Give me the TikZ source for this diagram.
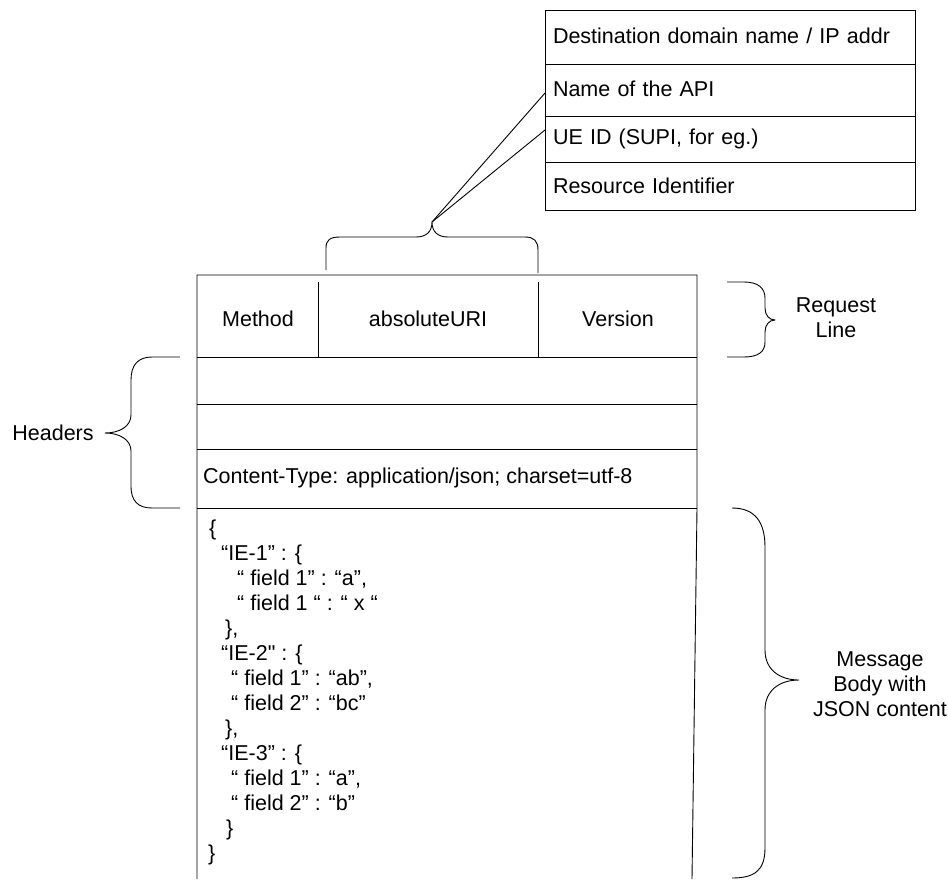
\documentclass[tikz,border=0pt]{standalone}
\usepackage{fontspec}
\setmainfont{Liberation Sans}[Ligatures=TeXOff]
\begin{document}
\begin{tikzpicture}[x=1pt,y=-1pt,
  line/.style={draw=black,line width=0.9pt},
  curl/.style={draw=black,line width=0.9pt,line join=round},
  lbl/.style={inner sep=0pt,font=\fontsize{21.5}{25}\selectfont},
  lblc/.style={lbl,align=center},
  lbll/.style={lbl,anchor=base west},
  rowbox/.style={draw=black,line width=0.9pt,minimum width=370pt,text width=354pt,
    inner xsep=8pt,inner ysep=0pt,align=left,font=\fontsize{21.5}{25}\selectfont}]
\useasboundingbox (0,0) rectangle (948,879);

% ---- top box: URI parts
\node[rowbox,minimum height=54pt] (dst) at (730,37) {\raisebox{3pt}{Destination domain name / IP addr}};
\node[rowbox,minimum height=52pt] (api) at (730,90) {\raisebox{3pt}{Name of the API}};
\node[rowbox,minimum height=46pt] (ueid) at (730,139) {\raisebox{3pt}{UE ID (SUPI, for eg.)}};
\node[rowbox,minimum height=48pt] (res) at (730,186) {\raisebox{1pt}{Resource Identifier}};

% ---- brace over absoluteURI and its connectors
\coordinate (tip) at (432,222);
\coordinate (apiend) at (545,93);
\coordinate (ueend) at (545,130);
\draw[curl] (326,270) -- (326,248) .. controls (326,240) and (330,237) .. (340,237)
  -- (416,237) .. controls (426,237) and (432,232) .. (tip)
  .. controls (432,232) and (438,237) .. (448,237)
  -- (525,237) .. controls (534,237) and (538,241) .. (538,250) -- (538,273);
\draw[line] (tip) -- (apiend);
\draw[line] (tip) -- (ueend);

% ---- main message box
\draw[line] (197,879) -- (197,275) -- (697,275) -- (697,508) -- (692,879);
\draw[line] (197,357) -- (697,357);
\draw[line] (197,404) -- (697,404);
\draw[line] (197,449) -- (697,449);
\draw[line] (197,508) -- (697,508);
\draw[line] (318,282) -- (318,357);
\draw[line] (538,282) -- (538,357);

\node[lbl] (method) at (258,319) {Method};
\node[lbl] (uri) at (428,319) {absoluteURI};
\node[lbl] (version) at (618,319) {Version};
\node[lbl,anchor=west] (ctype) at (203,478) {Content-Type: application/json; charset=utf-8};

% ---- JSON body
\node[lbll] (j1)  at (209,535) {\{};
\node[lbll] (j2)  at (221,560) {“IE-1” : \{};
\node[lbll] (j3)  at (237,585) {“ field 1” : “a”,};
\node[lbll] (j4)  at (237,610) {“ field 1 “ : “ x “};
\node[lbll] (j5)  at (225,635) {\},};
\node[lbll] (j6)  at (221,660) {“IE-2" : \{};
\node[lbll] (j7)  at (231,685) {“ field 1” : “ab”,};
\node[lbll] (j8)  at (231,710) {“ field 2” : “bc”};
\node[lbll] (j9)  at (225,735) {\},};
\node[lbll] (j10) at (221,760) {“IE-3” : \{};
\node[lbll] (j11) at (231,785) {“ field 1” : “a”,};
\node[lbll] (j12) at (231,810) {“ field 2” : “b”};
\node[lbll] (j13) at (226,835) {\}};
\node[lbll] (j14) at (208,860) {\}};

% ---- Headers brace
\draw[curl] (180,357) -- (152,357) .. controls (138,357) and (131,365) .. (131,380)
  -- (131,415) .. controls (131,426) and (120,433) .. (105,433)
  .. controls (120,433) and (131,440) .. (131,451)
  -- (131,486) .. controls (131,501) and (138,508) .. (152,508) -- (180,508);
\node[lbl] (headers) at (53,433) {Headers};

% ---- Request line brace
\draw[curl] (727,282) -- (744,282) .. controls (758,282) and (765,288) .. (765,298)
  -- (765,308) .. controls (765,315) and (769,320) .. (775,320)
  .. controls (769,320) and (765,325) .. (765,332)
  -- (765,342) .. controls (765,352) and (758,357) .. (744,357) -- (727,357);
\node[lblc] (reqline) at (836,318) {Request\\Line};

% ---- Message body brace
\draw[curl] (732,508) .. controls (755,508) and (765,522) .. (765,547)
  -- (765,650) .. controls (765,670) and (780,680) .. (799,680)
  .. controls (780,680) and (765,690) .. (765,710)
  -- (765,848) .. controls (765,870) and (755,878) .. (732,878);
\node[lblc] (msgbody) at (880,684) {Message\\Body with\\JSON content};
\end{tikzpicture}
\end{document}
